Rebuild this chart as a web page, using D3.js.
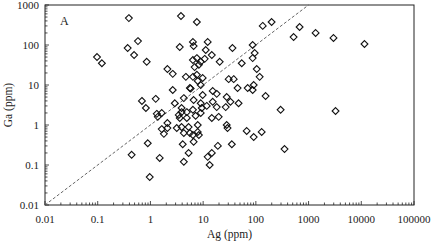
<!DOCTYPE html>
<html lang="en">
  <head>
    <meta charset="utf-8" />
    <title>Ga vs Ag</title>
    <script src="https://cdnjs.cloudflare.com/ajax/libs/d3/7.8.5/d3.min.js"></script>
    <style>
      html, body { margin: 0; padding: 0; background: #fff; overflow: hidden; }
      svg { display: block; }
      text { font-family: "Liberation Serif", "Times New Roman", serif; fill: #222; }
    </style>
  </head>
  <body>
    <div id="chart"></div>
    <script>
      // Ag (ppm) and Ga (ppm)
      const ag = [
        0.097, 0.12, 0.39, 0.58, 0.37, 0.49, 0.85, 3.8, 3.6, 2.1,
        2.65, 2.65, 0.69, 1.26, 2.9, 0.82, 1.32, 1.64, 1.38, 2.1,
        1.64, 2.1, 1.8, 3.16, 3.9, 3.45, 3.9, 0.89, 0.44, 1.5,
        4.1, 4.3, 0.97, 7.6, 6.4, 6.6, 12.2, 11.2, 14.6, 6.4,
        7.6, 9.0, 8.3, 10.7, 20.6, 36, 54, 87, 95, 87,
        104, 6.9, 4.7, 6.4, 7.6, 9.8, 7.9, 5.6, 5.8, 9.0,
        15.2, 18.1, 30.5, 38, 45, 70, 91, 87, 28, 4.3,
        6.6, 9.8, 9.0, 11.7, 15.2, 18.1, 26.8, 33, 47, 3.9,
        4.9, 6.4, 7.2, 9.0, 9.4, 3.6, 4.9, 5.3, 7.9, 14.6,
        19.7, 28, 29, 67, 7.9, 4.3, 5.6, 6.4, 8.3, 6.6,
        5.3, 12.2, 14.6, 13.3, 19, 35, 91, 129, 153, 118,
        295, 3250, 350, 135, 199, 676, 520, 1360, 2970, 11500
      ];
      const ga = [
        50, 35, 470, 125, 84, 56, 38, 530, 89, 25,
        19, 7.5, 4.0, 4.5, 3.5, 2.66, 1.9, 2.0, 1.6, 1.12,
        0.79, 0.84, 0.6, 0.84, 0.89, 1.78, 2.1, 0.35, 0.18, 0.15,
        0.33, 0.12, 0.05, 376, 119, 94, 119, 75, 56, 42,
        47, 38, 32, 45, 38, 84, 35, 100, 63, 47,
        25, 28, 16, 16, 18, 15, 12.6, 8.4, 8.2, 10,
        7.1, 6.0, 14, 14, 8.4, 8.4, 10, 7.5, 5.0, 4.7,
        4.2, 5.6, 3.5, 3.0, 3.8, 2.8, 2.8, 3.8, 3.5, 2.66,
        2.1, 2.4, 1.7, 2.0, 2.66, 1.5, 1.5, 0.89, 1.0, 1.5,
        1.6, 1.0, 0.84, 0.71, 0.67, 0.63, 0.63, 0.56, 0.56, 0.38,
        0.2, 0.16, 0.2, 0.1, 0.3, 0.33, 0.5, 0.67, 5.3, 16,
        2.4, 2.24, 0.25, 300, 376, 282, 158, 200, 150, 106
      ];
      const xTicks = [0.01, 0.1, 1, 10, 100, 1000, 10000, 100000];
      const yTicks = [0.01, 0.1, 1, 10, 100, 1000];
      const xTickLabels = ['0.01', '0.1', '1', '10', '100', '1000', '10000', '100000'];
      const yTickLabels = ['0.01', '0.1', '1', '10', '100', '1000'];
      const panelLabel = 'A';

      const width = 434, height = 243;
      const margin = { top: 5, right: 20, bottom: 38, left: 45 };
      const innerWidth = width - margin.left - margin.right;
      const innerHeight = height - margin.top - margin.bottom;

      const svg = d3.select('#chart').append('svg')
        .attr('width', width)
        .attr('height', height);

      const g = svg.append('g')
        .attr('transform', `translate(${margin.left},${margin.top})`);

      const x = d3.scaleLog().domain([0.01, 100000]).range([0, innerWidth]);
      const y = d3.scaleLog().domain([0.01, 1000]).range([innerHeight, 0]);

      // minor ticks for each decade
      const minor = (lo, hi) => {
        const out = [];
        for (let e = Math.log10(lo); e < Math.log10(hi); e++) {
          for (let k = 2; k <= 9; k++) out.push(k * Math.pow(10, e));
        }
        return out;
      };

      const ax = g.append('g').attr('transform', `translate(0,${innerHeight})`);
      ax.selectAll('.minor').data(minor(0.01, 100000)).join('line')
        .attr('x1', d => x(d)).attr('x2', d => x(d))
        .attr('y1', 0).attr('y2', -2.5)
        .attr('stroke', '#222').attr('stroke-width', 0.8);
      ax.selectAll('.major').data(xTicks).join('line')
        .attr('x1', d => x(d)).attr('x2', d => x(d))
        .attr('y1', 0).attr('y2', -4)
        .attr('stroke', '#222').attr('stroke-width', 0.8);
      ax.selectAll('text').data(xTicks).join('text')
        .attr('x', d => x(d)).attr('y', 18)
        .attr('text-anchor', 'middle')
        .attr('font-size', 11)
        .text((d, i) => xTickLabels[i]);

      const ay = g.append('g');
      ay.selectAll('.minor').data(minor(0.01, 1000)).join('line')
        .attr('y1', d => y(d)).attr('y2', d => y(d))
        .attr('x1', 0).attr('x2', 2.5)
        .attr('stroke', '#222').attr('stroke-width', 0.8);
      ay.selectAll('.major').data(yTicks).join('line')
        .attr('y1', d => y(d)).attr('y2', d => y(d))
        .attr('x1', 0).attr('x2', 4)
        .attr('stroke', '#222').attr('stroke-width', 0.8);
      ay.selectAll('text').data(yTicks).join('text')
        .attr('x', -6).attr('y', d => y(d) + 4)
        .attr('text-anchor', 'end')
        .attr('font-size', 11)
        .text((d, i) => yTickLabels[i]);

      // frame
      g.append('rect')
        .attr('width', innerWidth).attr('height', innerHeight)
        .attr('fill', 'none').attr('stroke', '#222').attr('stroke-width', 1);

      // 1:1 line
      g.append('line')
        .attr('x1', x(0.01)).attr('y1', y(0.01))
        .attr('x2', x(1000)).attr('y2', y(1000))
        .attr('stroke', '#555').attr('stroke-width', 0.9)
        .attr('stroke-dasharray', '3,2');

      // points
      const sym = d3.symbol().type(d3.symbolDiamond2).size(30);
      g.selectAll('.pt').data(ag.map((d, i) => [d, ga[i]])).join('path')
        .attr('class', 'pt')
        .attr('transform', d => `translate(${x(d[0])},${y(d[1])})`)
        .attr('d', sym)
        .attr('fill', 'none')
        .attr('stroke', '#111')
        .attr('stroke-width', 1.1);

      g.append('text')
        .attr('x', 15).attr('y', 20)
        .attr('font-size', 12)
        .text(panelLabel);

      svg.append('text')
        .attr('x', margin.left + innerWidth / 2).attr('y', 238)
        .attr('text-anchor', 'middle')
        .attr('font-size', 11.5)
        .text('Ag (ppm)');

      svg.append('text')
        .attr('transform', `translate(12,${margin.top + innerHeight / 2}) rotate(-90)`)
        .attr('text-anchor', 'middle')
        .attr('font-size', 11.5)
        .text('Ga (ppm)');
    </script>
  </body>
</html>
